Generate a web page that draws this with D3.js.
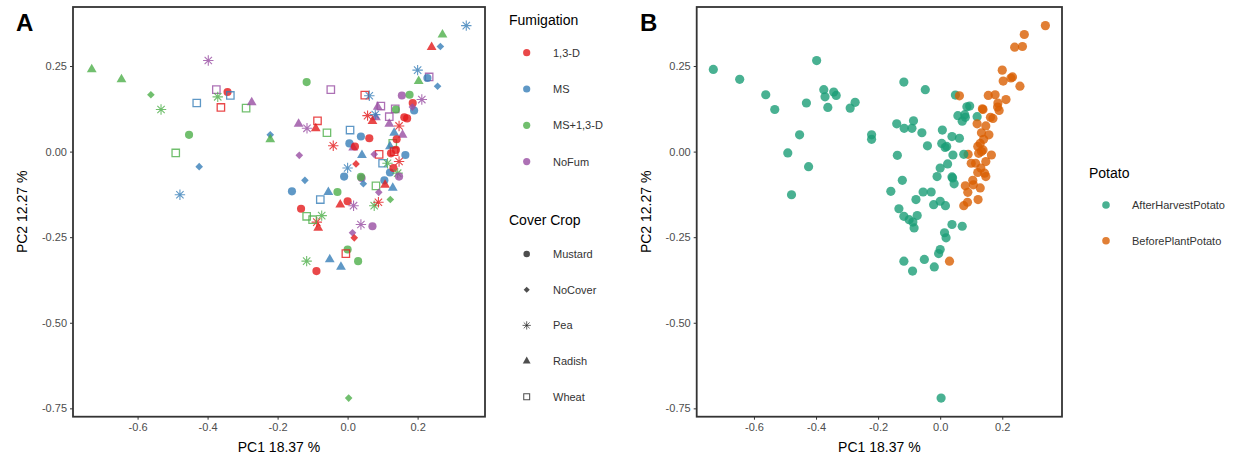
<!DOCTYPE html>
<html>
<head>
<meta charset="utf-8">
<script src="https://cdn.jsdelivr.net/npm/d3@7"></script>
<style>
  body { margin: 0; background: #fff; }
  text { font-family: "Liberation Sans", Arial, Helvetica, sans-serif; }
</style>
</head>
<body>
<svg id="chart" width="1252" height="458"></svg>
<script>
// ---- levels, palettes, ticks ----
const fumigationLevels = ["1,3-D", "MS", "MS+1,3-D", "NoFum"];
const fumigationColors = ["#E41A1C", "#377EB8", "#4DAF4A", "#984EA3"];
const coverLevels = ["Mustard", "NoCover", "Pea", "Radish", "Wheat"];
const potatoLevels = ["AfterHarvestPotato", "BeforePlantPotato"];
const potatoColors = ["#1B9E77", "#D95F02"];
const xTicks = [-0.6, -0.4, -0.2, 0.0, 0.2];
const yTicks = [0.25, 0.00, -0.25, -0.50, -0.75];

// ---- sample scores (PC1, PC2) and group indices ----
const pc1 = [
  -0.731, -0.646, -0.562, -0.533, -0.398, -0.375, -0.343, -0.371, -0.335, -0.431,
  -0.362, -0.290, -0.274, -0.453, -0.491, -0.424, -0.479,  0.339,  0.271,  0.240,
   0.265,  0.200,  0.203,  0.233,  0.228,  0.257, -0.117, -0.048,  0.049,  0.062,
   0.155,  0.177,  0.212,  0.186,  0.086,  0.095,  0.136,  0.138,  0.190,  0.185,
   0.057,  0.081,  0.079,  0.071,  0.162,  0.170,  0.119,  0.119,  0.147, -0.140,
  -0.116, -0.091, -0.086, -0.059, -0.221, -0.221,  0.007,  0.038,  0.062,  0.005,
   0.016,  0.021,  0.041, -0.041, -0.138,  0.133,  0.157,  0.129,  0.121,  0.090,
   0.124,  0.138,  0.165,  0.076,  0.147,  0.100,  0.114,  0.024,  0.000, -0.010,
   0.121,  0.131,  0.143,  0.147,  0.040,  0.038,  0.045,  0.105,  0.081,  0.107,
   0.129,  0.089,  0.122,  0.076,  0.088, -0.159, -0.122, -0.055, -0.078, -0.029,
  -0.133, -0.021,  0.000,  0.017, -0.117, -0.074, -0.088, -0.084, -0.100,  0.038,
   0.071,  0.014,  0.019,  0.000, -0.005,  0.030, -0.117, -0.051, -0.019, -0.089,
   0.003,  0.140,  0.133
];
const pc2 = [
   0.240,  0.211,  0.166,  0.123,  0.266,  0.181,  0.174,  0.160,  0.164,  0.142,
   0.129,  0.127,  0.144,  0.049, -0.004, -0.044, -0.126,  0.368,  0.342,  0.305,
   0.307,  0.238,  0.206,  0.218,  0.215,  0.191,  0.203,  0.181,  0.165,  0.163,
   0.164,  0.166,  0.152,  0.142,  0.131,  0.133,  0.125,  0.123,  0.120,  0.130,
   0.105,  0.100,  0.108,  0.089,  0.100,  0.097,  0.102,  0.081,  0.075,  0.081,
   0.068,  0.068,  0.090,  0.055,  0.049,  0.036,  0.063,  0.044,  0.039,  0.024,
   0.012,  0.015, -0.010,  0.017, -0.011,  0.055,  0.049,  0.024,  0.015, -0.008,
  -0.005,  0.005, -0.010, -0.008, -0.029, -0.034, -0.034, -0.036, -0.048, -0.073,
  -0.061, -0.048, -0.063, -0.073, -0.077, -0.074, -0.094, -0.084, -0.100, -0.097,
  -0.106, -0.119, -0.140, -0.158, -0.148, -0.116, -0.084, -0.118, -0.140, -0.118,
  -0.167, -0.155, -0.145, -0.158, -0.189, -0.187, -0.206, -0.223, -0.199, -0.213,
  -0.218, -0.237, -0.252, -0.286, -0.298, -0.320, -0.320, -0.315, -0.337, -0.349,
  -0.720,  0.036,  0.000
];
// index into fumigationLevels
const fumigation = [
  2, 2, 2, 2, 3, 3, 0, 2, 1, 1,
  0, 2, 3, 2, 2, 1, 1, 1, 2, 0,
  1, 1, 2, 3, 1, 1, 2, 3, 0, 1,
  3, 2, 3, 0, 3, 3, 3, 2, 1, 3,
  0, 3, 1, 0, 0, 0, 3, 3, 0, 3,
  3, 0, 0, 2, 1, 2, 1, 1, 0, 1,
  3, 0, 1, 0, 3, 1, 3, 2, 1, 0,
  0, 0, 1, 3, 0, 1, 2, 0, 1, 1,
  1, 0, 2, 3, 3, 2, 1, 1, 2, 0,
  1, 3, 2, 2, 0, 1, 1, 1, 1, 2,
  0, 0, 0, 3, 2, 2, 0, 0, 2, 3,
  3, 3, 0, 2, 0, 2, 2, 1, 1, 0,
  2, 0, 0
];
// index into coverLevels
const coverCrop = [
  3, 3, 1, 2, 2, 4, 0, 2, 4, 4,
  4, 4, 3, 0, 4, 1, 2, 2, 3, 3,
  1, 2, 3, 4, 0, 1, 0, 4, 4, 2,
  0, 0, 2, 0, 3, 4, 4, 0, 0, 1,
  2, 3, 2, 3, 0, 0, 4, 3, 2, 3,
  2, 3, 4, 4, 1, 3, 4, 0, 0, 0,
  3, 0, 3, 2, 1, 3, 3, 4, 3, 4,
  0, 0, 0, 1, 2, 4, 2, 1, 2, 0,
  0, 0, 2, 0, 0, 0, 1, 0, 4, 3,
  3, 1, 1, 2, 2, 0, 1, 3, 4, 0,
  0, 3, 0, 2, 4, 2, 2, 3, 4, 2,
  0, 1, 1, 0, 4, 0, 2, 3, 3, 0,
  1, 0, 4
];
// index into potatoLevels
const potato = [
  0, 0, 0, 0, 0, 0, 0, 0, 0, 0,
  0, 0, 0, 0, 0, 0, 0, 1, 1, 1,
  1, 1, 1, 1, 1, 1, 0, 0, 0, 1,
  1, 1, 1, 1, 0, 0, 1, 1, 1, 1,
  0, 0, 0, 0, 1, 1, 0, 1, 1, 0,
  0, 0, 0, 0, 0, 0, 0, 0, 0, 0,
  0, 0, 0, 0, 0, 1, 1, 1, 1, 1,
  1, 1, 1, 0, 1, 1, 1, 0, 0, 0,
  1, 1, 1, 1, 0, 0, 0, 1, 1, 1,
  1, 1, 1, 1, 1, 0, 0, 0, 0, 0,
  0, 0, 0, 0, 0, 0, 0, 0, 0, 0,
  0, 0, 0, 0, 0, 1, 0, 0, 0, 0,
  0, 1, 1
];

const points = pc1.map((x, i) => ({
  x, y: pc2[i], fum: fumigation[i], cover: coverCrop[i], potato: potato[i]
}));

// ---- shared scales (5% expansion like ggplot) ----
const xExt = d3.extent(pc1), yExt = d3.extent(pc2);
const xPad = (xExt[1] - xExt[0]) * 0.05, yPad = (yExt[1] - yExt[0]) * 0.05;
const xDomain = [xExt[0] - xPad, xExt[1] + xPad];
const yDomain = [yExt[0] - yPad, yExt[1] + yPad];

const svg = d3.select("#chart");
const ALPHA = 0.8;

// shape paths for the cover crop symbols, centred on 0,0
function shapePath(c) {
  switch (c) {
    case 0: return d3.symbol(d3.symbolCircle, 52)();
    case 1: return "M0,-3.8L3.8,0L0,3.8L-3.8,0Z";
    case 2: { // eight-armed star
      const r = 5.2, a = r * Math.SQRT1_2;
      return `M${-r},0L${r},0M0,${-r}L0,${r}M${-a},${-a}L${a},${a}M${-a},${a}L${a},${-a}`;
    }
    case 3: return "M0,-5.6L4.9,2.9L-4.9,2.9Z";
    case 4: return "M-3.7,-3.7H3.7V3.7H-3.7Z";
  }
}
function styleShape(sel, c, color) {
  if (c === 2 || c === 4) {
    sel.attr("fill", "none").attr("stroke", color)
       .attr("stroke-width", c === 2 ? 1.1 : 1.3).attr("stroke-opacity", ALPHA);
  } else {
    sel.attr("fill", color).attr("fill-opacity", ALPHA).attr("stroke", "none");
  }
}

function panel(opts) {
  const { left, right, top, bottom, label, labelX, titleX } = opts;
  const x = d3.scaleLinear().domain(xDomain).range([left, right]);
  const y = d3.scaleLinear().domain(yDomain).range([bottom, top]);
  const g = svg.append("g");

  const xAxis = g.append("g").attr("transform", `translate(0,${bottom})`)
    .call(d3.axisBottom(x).tickValues(xTicks).tickSize(3).tickPadding(4)
      .tickFormat(d => d.toFixed(1)));
  const yAxis = g.append("g").attr("transform", `translate(${left},0)`)
    .call(d3.axisLeft(y).tickValues(yTicks).tickSize(3).tickPadding(3)
      .tickFormat(d => d.toFixed(2)));
  [xAxis, yAxis].forEach(a => {
    a.select(".domain").remove();
    a.selectAll(".tick line").attr("stroke", "#333").attr("stroke-width", 1);
    a.selectAll(".tick text").attr("fill", "#4d4d4d").style("font-size", "11px")
      .style("font-family", '"Liberation Sans", Arial, sans-serif');
  });

  // axis titles
  g.append("text").attr("x", (left + right) / 2).attr("y", 452)
    .attr("text-anchor", "middle").style("font-size", "14px").attr("fill", "#000")
    .text("PC1 18.37 %");
  g.append("text").attr("transform", `translate(${titleX},${(top + bottom) / 2}) rotate(-90)`)
    .attr("text-anchor", "middle").style("font-size", "14px").attr("fill", "#000")
    .text("PC2 12.27 %");

  // panel tag
  g.append("text").attr("x", labelX).attr("y", 31)
    .style("font-size", "24px").style("font-weight", "bold").attr("fill", "#000")
    .text(label);

  const marks = g.append("g");
  opts.draw(marks, x, y);

  g.append("rect").attr("x", left).attr("y", top)
    .attr("width", right - left).attr("height", bottom - top)
    .attr("fill", "none").attr("stroke", "#333").attr("stroke-width", 1.8);
}

// ---- Panel A: fumigation colour x cover crop shape ----
panel({
  left: 73, right: 485, top: 7, bottom: 416.7, label: "A", labelX: 16, titleX: 27,
  draw: (g, x, y) => {
    points.forEach(p => {
      const s = g.append("path").attr("d", shapePath(p.cover))
        .attr("transform", `translate(${x(p.x)},${y(p.y)})`);
      styleShape(s, p.cover, fumigationColors[p.fum]);
    });
  }
});

// ---- Panel B: potato timing ----
panel({
  left: 696.7, right: 1062, top: 7, bottom: 416.7, label: "B", labelX: 640, titleX: 651,
  draw: (g, x, y) => {
    g.selectAll("circle").data(points).join("circle")
      .attr("cx", d => x(d.x)).attr("cy", d => y(d.y)).attr("r", 4.6)
      .attr("fill", d => potatoColors[d.potato]).attr("fill-opacity", ALPHA);
  }
});

// ---- Legends ----
const legA = svg.append("g");
legA.append("text").attr("x", 509).attr("y", 25).style("font-size", "14px").text("Fumigation");
fumigationLevels.forEach((lv, i) => {
  const cy = 52.7 + i * 36.3;
  legA.append("circle").attr("cx", 526.7).attr("cy", cy).attr("r", 3.6)
    .attr("fill", fumigationColors[i]).attr("fill-opacity", ALPHA);
  legA.append("text").attr("x", 553).attr("y", cy + 4).style("font-size", "11px")
    .attr("fill", "#333").text(lv);
});
legA.append("text").attr("x", 509).attr("y", 225).style("font-size", "14px").text("Cover Crop");
coverLevels.forEach((lv, i) => {
  const cy = 254 + i * 35.7;
  const s = legA.append("path").attr("d", shapePath(i))
    .attr("transform", `translate(526.7,${cy}) scale(0.8)`);
  styleShape(s, i, "#222");
  legA.append("text").attr("x", 553).attr("y", cy + 4).style("font-size", "11px")
    .attr("fill", "#333").text(lv);
});

const legB = svg.append("g");
legB.append("text").attr("x", 1089).attr("y", 178).style("font-size", "14px").text("Potato");
potatoLevels.forEach((lv, i) => {
  const cy = 205 + i * 35.7;
  legB.append("circle").attr("cx", 1106).attr("cy", cy).attr("r", 3.8)
    .attr("fill", potatoColors[i]).attr("fill-opacity", ALPHA);
  legB.append("text").attr("x", 1132).attr("y", cy + 4).style("font-size", "11px")
    .attr("fill", "#333").text(lv);
});
</script>
</body>
</html>
